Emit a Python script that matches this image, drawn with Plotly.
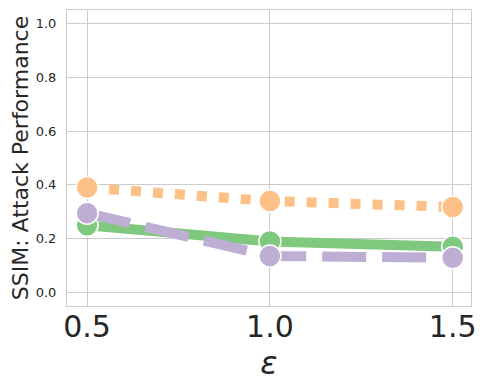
import plotly.graph_objects as go

eps = [0.5, 1.0, 1.5]
green_vals = [0.25, 0.19, 0.17]
orange_vals = [0.39, 0.34, 0.318]
purple_vals = [0.295, 0.136, 0.129]

y_ticks = [0.0, 0.2, 0.4, 0.6, 0.8, 1.0]
x_ticks = [0.5, 1.0, 1.5]

series = [
    ("green", green_vals, "#7fc97f", "solid"),
    ("orange", orange_vals, "#fdc086", "10px,12px"),
    ("purple", purple_vals, "#beaed4", "44px,16px"),
]

fig = go.Figure()

for name, vals, color, dash in series:
    fig.add_trace(
        go.Scatter(
            x=eps,
            y=vals,
            mode="lines+markers",
            name=name,
            line=dict(color=color, width=10, dash=dash),
            marker=dict(size=22, color=color, line=dict(color="white", width=1.5)),
        )
    )

axis_common = dict(
    showgrid=True,
    gridcolor="#cccccc",
    gridwidth=1,
    zeroline=False,
    showline=True,
    linecolor="#cccccc",
    linewidth=1,
    mirror=True,
    ticks="",
    automargin=False,
)

# page body has an 8px margin, so the figure is sized to fit the window
fig.update_layout(
    width=481,
    height=382,
    margin=dict(l=59, r=18, t=2, b=84),
    plot_bgcolor="white",
    paper_bgcolor="white",
    showlegend=False,
    font=dict(family="DejaVu Sans", color="#262626"),
    xaxis=dict(
        range=[0.445, 1.55],
        tickvals=x_ticks,
        ticktext=["0.5", "1.0", "1.5"],
        tickfont=dict(size=30),
        ticklabelstandoff=-6,
        title=dict(text="<i>ε</i>", font=dict(size=32), standoff=4),
        **axis_common,
    ),
    yaxis=dict(
        range=[-0.05, 1.05],
        tickvals=y_ticks,
        ticktext=["0.0", "0.2", "0.4", "0.6", "0.8", "1.0"],
        tickfont=dict(size=13),
        ticklabelstandoff=7,
        title=dict(text="SSIM: Attack Performance", font=dict(size=22), standoff=4),
        **axis_common,
    ),
)

fig.write_html("out.html")
